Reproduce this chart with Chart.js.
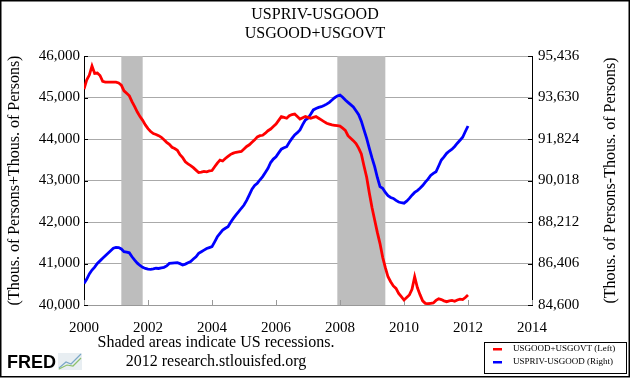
<!DOCTYPE html>
<html>
<head>
<meta charset="utf-8">
<script src="https://cdn.jsdelivr.net/npm/chart.js@4.4.1/dist/chart.umd.min.js"></script>
<style>
  html, body { margin: 0; padding: 0; background: #fff; }
</style>
</head>
<body>
<canvas id="fredChart" width="630" height="378"></canvas>
<script>
// Chart data (monthly, Jan 2000 - Jan 2012)
const titleLines = ['USPRIV-USGOOD', 'USGOOD+USGOVT'];
const seriesNames = ['USGOOD+USGOVT (Left)', 'USPRIV-USGOOD (Right)'];

const months = [];
for (let y = 2000; y <= 2011; y++) {
  for (let m = 1; m <= 12; m++) months.push(y + '-' + String(m).padStart(2, '0'));
}
months.push('2012-01');

const goodPlusGovt = [
  45200, 45420, 45540, 45760, 45580, 45590, 45530, 45390, 45370, 45370, 45370, 45370,
  45370, 45350, 45300, 45160, 45100, 45040, 44900, 44780, 44650, 44540, 44450, 44340,
  44250, 44180, 44130, 44110, 44080, 44040, 43980, 43920, 43870, 43800, 43770, 43730,
  43620, 43550, 43450, 43400, 43360, 43310, 43250, 43190, 43200, 43220, 43210, 43230,
  43240, 43330, 43420, 43490, 43470, 43530, 43580, 43630, 43660, 43680, 43690, 43700,
  43760, 43820, 43860, 43920, 43980, 44050, 44080, 44090, 44140, 44200, 44240, 44300,
  44360, 44450, 44540, 44520, 44500, 44560, 44590, 44600, 44540, 44480, 44510, 44540,
  44520, 44500, 44520, 44540, 44500, 44460, 44420, 44380, 44360, 44340, 44330, 44320,
  44310, 44260, 44210, 44080, 44020, 43960, 43890, 43780, 43640, 43350, 43080, 42700,
  42350, 42050, 41750, 41480, 41150, 40900, 40680, 40560, 40460, 40400, 40280, 40200,
  40120, 40180, 40240, 40380, 40680, 40420, 40250, 40100, 40040, 40030, 40040, 40050,
  40110, 40150, 40130, 40100, 40080, 40100, 40110, 40090, 40120, 40140, 40130, 40180,
  40240
];

const privMinusGood = [
  85540, 85720, 85950, 86120, 86250, 86410, 86520, 86630, 86740, 86850, 86960, 87070,
  87110, 87100, 87040, 86920, 86900, 86870, 86700, 86550, 86420, 86320, 86240, 86190,
  86160, 86150, 86170, 86200, 86190, 86220, 86240, 86300, 86410, 86420, 86430, 86440,
  86400, 86340, 86380, 86440, 86490, 86600, 86700, 86850, 86920, 86990, 87060, 87100,
  87140, 87350, 87570, 87720, 87860, 87940, 88010, 88200, 88370, 88520, 88660, 88810,
  88950, 89150, 89390, 89640, 89800, 89900, 90050, 90190, 90370, 90550, 90800, 90950,
  91050, 91220, 91380, 91440, 91490, 91680, 91850, 92000, 92100, 92220, 92450, 92650,
  92730, 92900, 93090, 93150, 93200, 93230, 93280, 93340, 93420, 93520, 93620, 93700,
  93740, 93640, 93520, 93420, 93320, 93220, 93050, 92880, 92600, 92220, 91850, 91420,
  91000, 90620, 90150, 89750, 89680, 89500, 89360, 89280, 89240, 89150, 89080, 89050,
  89030, 89120, 89240, 89380, 89500, 89580, 89680, 89800, 89950, 90080, 90240, 90330,
  90400, 90650, 90910, 91050, 91200, 91300, 91380, 91500, 91640, 91770, 91900, 92150,
  92390
];

const leftTicks = [40000, 41000, 42000, 43000, 44000, 45000, 46000];
const rightTicks = [84600, 86406, 88212, 90018, 91824, 93630, 95436];
const yearTicks = [2000, 2002, 2004, 2006, 2008, 2010, 2012, 2014];
const recessions = [['2001-03', '2001-11'], ['2007-12', '2009-06']];

const SERIF = '"Liberation Serif", "DejaVu Serif", serif';

// "2005-07" -> 2005.5
function toYear(s) {
  const [y, m] = s.split('-').map(Number);
  return y + (m - 1) / 12;
}

const redPoints = months.map((m, i) => ({ x: toYear(m), y: goodPlusGovt[i] }));
const bluePoints = months.map((m, i) => ({ x: toYear(m), y: privMinusGood[i] }));

// everything FRED draws around the plot
const fredDecor = {
  id: 'fredDecor',
  beforeDraw(chart) {
    const ctx = chart.ctx;
    ctx.save();
    ctx.fillStyle = '#fff';
    ctx.fillRect(0, 0, chart.width, chart.height);
    ctx.restore();
  },
  beforeDatasetsDraw(chart) {
    const { ctx, chartArea, scales } = chart;
    ctx.save();
    // recession bands
    ctx.fillStyle = '#bdbdbd';
    recessions.forEach(([a, b]) => {
      const x1 = scales.x.getPixelForValue(toYear(a));
      const x2 = scales.x.getPixelForValue(toYear(b));
      ctx.fillRect(x1, chartArea.top, x2 - x1, chartArea.bottom - chartArea.top);
    });
    // short inside ticks
    ctx.lineWidth = 1;
    ctx.strokeStyle = '#000';
    leftTicks.forEach(v => {
      const y = Math.round(scales.y.getPixelForValue(v)) + 0.5;
      ctx.beginPath(); ctx.moveTo(chartArea.left, y); ctx.lineTo(chartArea.left + 4, y); ctx.stroke();
    });
    rightTicks.forEach(v => {
      const y = Math.round(scales.y1.getPixelForValue(v)) + 0.5;
      ctx.beginPath(); ctx.moveTo(chartArea.right - 4, y); ctx.lineTo(chartArea.right, y); ctx.stroke();
    });
    ctx.strokeStyle = '#999';
    yearTicks.forEach(v => {
      const x = Math.round(scales.x.getPixelForValue(v)) + 0.5;
      ctx.beginPath(); ctx.moveTo(x, chartArea.bottom); ctx.lineTo(x, chartArea.bottom - 5); ctx.stroke();
    });
    ctx.restore();
  },
  afterDraw(chart) {
    const { ctx, chartArea } = chart;
    ctx.save();
    ctx.fillStyle = '#000';
    ctx.textAlign = 'center';
    ctx.textBaseline = 'middle';

    // titles
    ctx.font = '16px ' + SERIF;
    ctx.fillText(titleLines[0], 315, 15);
    ctx.fillText(titleLines[1], 315, 34);

    // axis titles, both read bottom to top
    const midY = (chartArea.top + chartArea.bottom) / 2;
    ctx.save();
    ctx.translate(15, midY);
    ctx.rotate(-Math.PI / 2);
    ctx.fillText('(Thous. of Persons+Thous. of Persons)', 0, 0);
    ctx.restore();
    ctx.save();
    ctx.translate(611, midY);
    ctx.rotate(-Math.PI / 2);
    ctx.fillText('(Thous. of Persons-Thous. of Persons)', 0, 0);
    ctx.restore();

    // footer
    ctx.fillText('Shaded areas indicate US recessions.', 216, 343);
    ctx.fillText('2012 research.stlouisfed.org', 216, 362);

    // FRED logo
    ctx.textAlign = 'left';
    ctx.font = 'bold 18px "Liberation Sans", Arial, sans-serif';
    ctx.fillText('FRED', 7, 363);
    ctx.fillStyle = '#e8eef2';
    ctx.fillRect(58, 353, 24, 17);
    ctx.lineWidth = 1.2;
    ctx.strokeStyle = '#7aa7c7';
    ctx.beginPath(); ctx.moveTo(59, 368); ctx.lineTo(66, 362); ctx.lineTo(71, 364); ctx.lineTo(81, 354); ctx.stroke();
    ctx.strokeStyle = '#8cc06a';
    ctx.beginPath(); ctx.moveTo(59, 369); ctx.lineTo(67, 365); ctx.lineTo(73, 366); ctx.lineTo(81, 358); ctx.stroke();

    // legend box
    ctx.strokeStyle = '#000';
    ctx.lineWidth = 1;
    ctx.strokeRect(484.5, 342.5, 142, 31);
    ctx.font = '9px ' + SERIF;
    ctx.fillStyle = '#000';
    const colors = chart.data.datasets.map(d => d.borderColor);
    [349, 362].forEach((y, i) => {
      ctx.fillStyle = colors[i];
      ctx.fillRect(493, y - 1, 9, 2.5);
      ctx.fillStyle = '#000';
      ctx.fillText(seriesNames[i], 513, y);
    });

    // outer frame
    ctx.lineWidth = 1.5;
    ctx.strokeRect(0.75, 0.75, chart.width - 1.5, chart.height - 2);
    ctx.restore();
  }
};

const tickFont = { family: SERIF, size: 15 };

new Chart(document.getElementById('fredChart').getContext('2d'), {
  type: 'line',
  data: {
    datasets: [
      {
        label: seriesNames[0],
        data: redPoints,
        yAxisID: 'y',
        borderColor: '#ff0000',
        borderWidth: 2.8,
        pointRadius: 0,
        tension: 0
      },
      {
        label: seriesNames[1],
        data: bluePoints,
        yAxisID: 'y1',
        borderColor: '#0000ff',
        borderWidth: 2.8,
        pointRadius: 0,
        tension: 0
      }
    ]
  },
  options: {
    responsive: false,
    devicePixelRatio: 1,
    animation: false,
    layout: { padding: { top: 56, left: 0, right: 0, bottom: 0 } },
    plugins: {
      legend: { display: false },
      tooltip: { enabled: false }
    },
    scales: {
      x: {
        type: 'linear',
        min: 2000,
        max: 2014,
        afterBuildTicks: s => { s.ticks = yearTicks.map(v => ({ value: v })); },
        afterFit: s => { s.height = 73; },
        ticks: { font: tickFont, color: '#000', padding: 6, maxRotation: 0, callback: v => String(v) },
        grid: { display: false },
        border: { color: '#999' }
      },
      y: {
        position: 'left',
        min: 40000,
        max: 46000,
        afterBuildTicks: s => { s.ticks = leftTicks.map(v => ({ value: v })); },
        afterFit: s => { s.width = 84; },
        ticks: { font: tickFont, color: '#000', padding: 4, callback: v => v.toLocaleString('en-US') },
        grid: { color: '#aaaaaa', drawTicks: false },
        border: { color: '#000' }
      },
      y1: {
        position: 'right',
        min: 84600,
        max: 95436,
        afterBuildTicks: s => { s.ticks = rightTicks.map(v => ({ value: v })); },
        afterFit: s => { s.width = 98; },
        ticks: { font: tickFont, color: '#000', padding: 6, callback: v => v.toLocaleString('en-US') },
        grid: { drawOnChartArea: false, drawTicks: false },
        border: { color: '#000' }
      }
    }
  },
  plugins: [fredDecor]
});
</script>
</body>
</html>
